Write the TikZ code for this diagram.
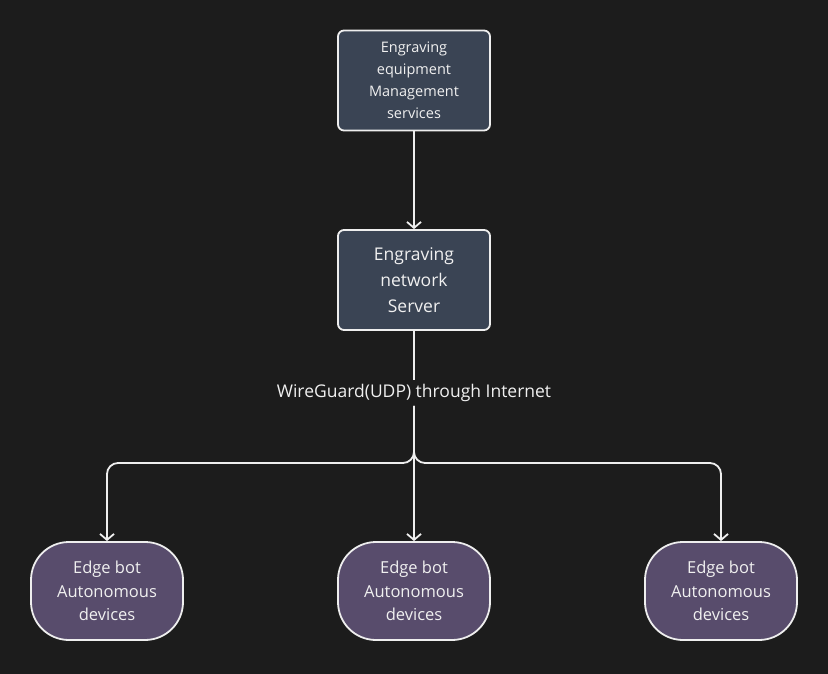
\documentclass[tikz,border=0pt]{standalone}
\usepackage{fontspec}
\setmainfont{Open Sans}
\usetikzlibrary{positioning, arrows.meta, calc}
\usepackage{xcolor}
\definecolor{egbg}{HTML}{1C1C1C}
\definecolor{egslate}{HTML}{3A4454}
\definecolor{egplum}{HTML}{584C6C}
\definecolor{egline}{HTML}{EEEEEE}
\definecolor{egtext}{HTML}{F0F0F0}

\tikzset{
  svcbox/.style={draw=egline, fill=egslate, line width=1.8pt, rounded corners=6pt,
                 text=egtext, align=center, minimum width=152pt, minimum height=100pt, inner sep=0pt},
  botnode/.style={draw=egline, fill=egplum, line width=1.8pt, rounded corners=38pt,
                  text=egtext, align=center, minimum width=152pt, minimum height=98pt, inner sep=0pt,
                  font=\fontsize{16.5}{23.5}\selectfont},
  link/.style={draw=egline, line width=1.8pt, -{Straight Barb[length=6pt,width=14pt]}},
}

\begin{document}
\begin{tikzpicture}[x=1pt, y=-1pt]
    \fill[egbg] (0,0) rectangle (828,674);
    \useasboundingbox (0,0) rectangle (828,674);

    % management and server
    \node[svcbox, font=\fontsize{14.5}{22}\selectfont] (mgmt) at (414,80.5)
          {Engraving\\equipment\\Management\\services};
    \node[svcbox, font=\fontsize{17.5}{26}\selectfont] (srv) at (414,280)
          {Engraving\\network\\Server};

    % tunnel label
    \node[fill=egbg, text=egtext, inner sep=4pt, font=\fontsize{17.5}{20}\selectfont] (wg) at (414,393)
          {WireGuard(UDP) through Internet};

    % edge bots
    \node[botnode] (botl) at (107,591) {Edge bot\\Autonomous\\devices};
    \node[botnode] (botm) at (414,591) {Edge bot\\Autonomous\\devices};
    \node[botnode] (botr) at (721,591) {Edge bot\\Autonomous\\devices};

    \draw[link] (mgmt) -- (srv);
    \draw[draw=egline, line width=1.8pt] (srv) -- (wg);
    \draw[link] (wg) -- (botm);
    \draw[link, rounded corners=11pt] (wg.south) -- (414,463) -| (botl.north);
    \draw[link, rounded corners=11pt] (wg.south) -- (414,463) -| (botr.north);
\end{tikzpicture}
\end{document}
